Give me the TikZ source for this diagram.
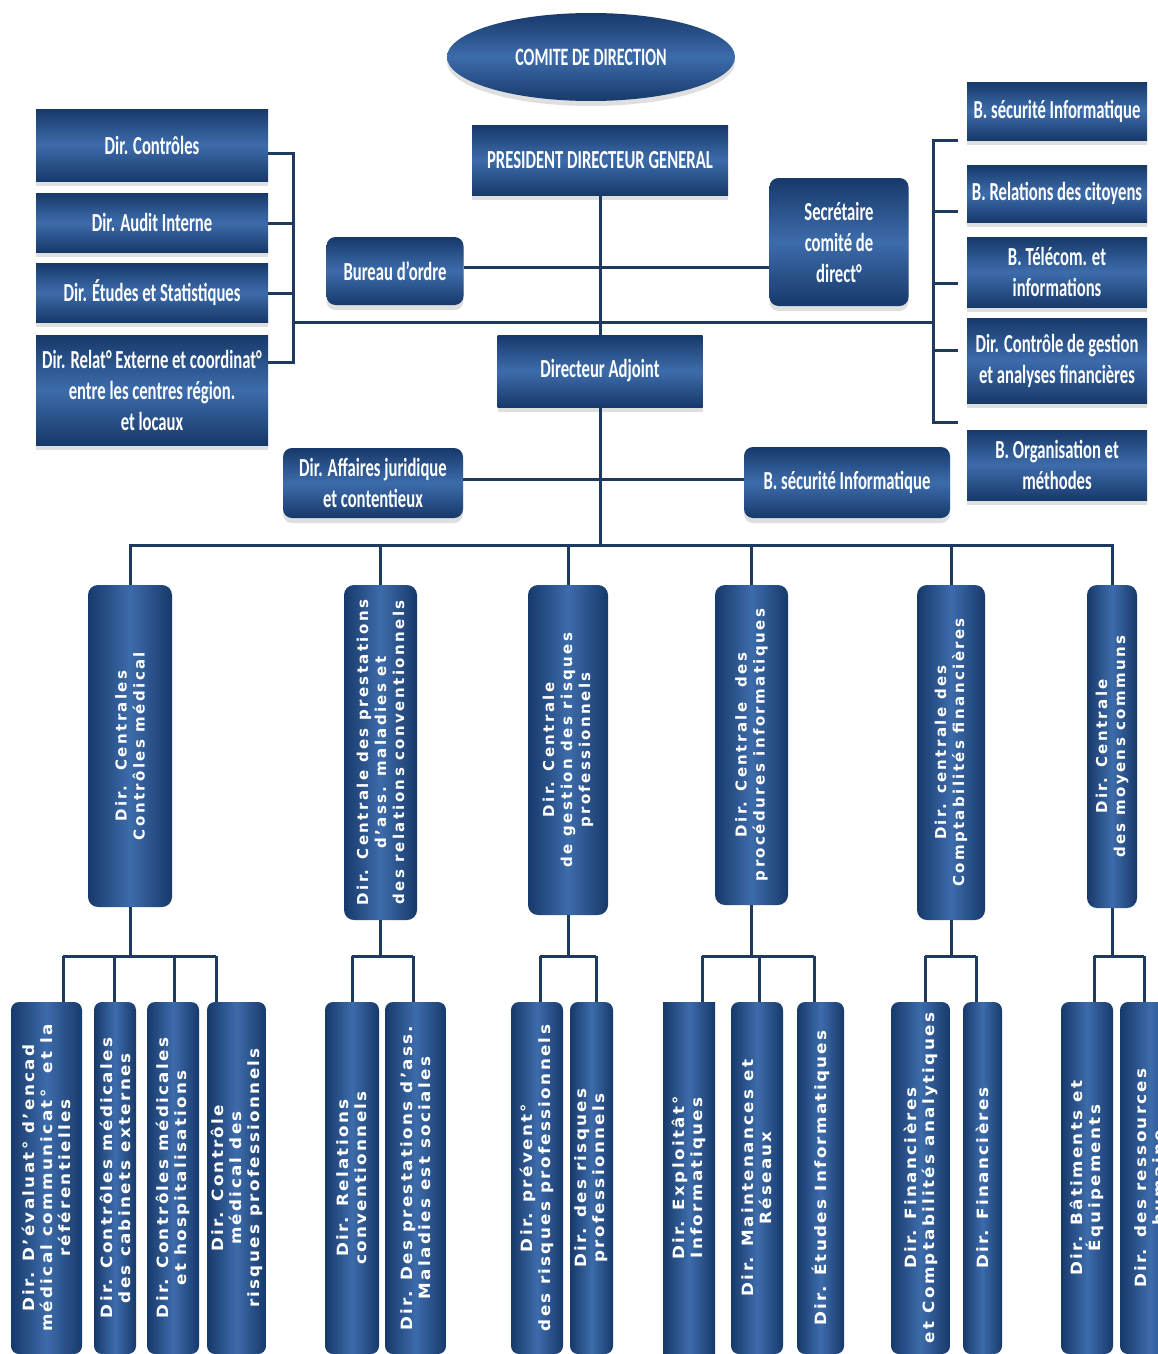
\documentclass[tikz,border=0pt]{standalone}
\usepackage{fontspec}
\usetikzlibrary{shapes.geometric,shadows}
\newfontfamily\topfont[FakeStretch=0.64]{Carlito}
\newfontfamily\vfont[LetterSpace=16]{DejaVu Sans}
\newfontfamily\lowfont[LetterSpace=15,FakeStretch=1.08]{DejaVu Sans}
\definecolor{navyL}{HTML}{3D6CAB}
\definecolor{navyD}{HTML}{17396A}
\definecolor{lineC}{HTML}{1E3A5F}
\begin{document}
\begin{tikzpicture}[x=1pt,y=-1pt,
  topbox/.style={draw=none, top color=navyD, bottom color=navyD, middle color=navyL,
    text=white, align=center, inner sep=1pt,
    font=\topfont\bfseries\fontsize{26}{31}\selectfont,
    drop shadow={opacity=0.25, shadow xshift=0pt, shadow yshift=-5pt}},
  roundbox/.style={topbox, rounded corners=9pt},
  vbox/.style={draw=none, left color=navyD, right color=navyD, middle color=navyL,
    text=white, align=center, inner sep=1pt, rotate=90, rounded corners=10pt,
    font=\vfont\bfseries\fontsize{15}{18}\selectfont},
  lowbox/.style={vbox, rounded corners=8pt, minimum width=352pt,
    font=\lowfont\bfseries\fontsize{15.5}{18}\selectfont},
  wire/.style={draw=lineC, line width=3pt}]
\path[use as bounding box] (0,0) rectangle (1158,1354);
\fill[white] (0,0) rectangle (1158,1354);
\clip (0,0) rectangle (1158,1354);

% ---------- top section ----------
\node[ellipse, topbox, minimum width=288pt, minimum height=88pt,
  font=\topfont\bfseries\fontsize{25}{28}\selectfont] (comite) at (591,57) {COMITE DE DIRECTION};
\node[topbox, minimum width=256pt, minimum height=70pt] (pdg) at (600,160) {PRESIDENT DIRECTEUR GENERAL};
\node[topbox, minimum width=232pt, minimum height=72pt] (dctrl) at (152,145) {Dir. Contrôles};
\node[topbox, minimum width=232pt, minimum height=59pt] (daudit) at (152,222.5) {Dir. Audit Interne};
\node[topbox, minimum width=232pt, minimum height=59pt] (detud) at (152,292.5) {Dir. Études et Statistiques};
\node[topbox, minimum width=232pt, minimum height=110pt] (drelat) at (152,390) {Dir. Relat° Externe et coordinat°\\entre les centres région.\\et locaux};
\node[roundbox, minimum width=137pt, minimum height=68pt] (bureau) at (395,271) {Bureau d’ordre};
\node[roundbox, minimum width=139pt, minimum height=128pt] (secr) at (839,242) {Secrétaire\\comité de\\direct°};
\node[topbox, minimum width=205pt, minimum height=72pt] (adj) at (600,371) {Directeur Adjoint};
\node[roundbox, minimum width=180pt, minimum height=70pt] (affj) at (373,483) {Dir. Affaires juridique\\et contentieux};
\node[roundbox, minimum width=206pt, minimum height=71pt] (bsec2) at (847,482.5) {B. sécurité Informatique};
\node[topbox, minimum width=180pt, minimum height=58pt] (r1) at (1057,111) {B. sécurité Informatique};
\node[topbox, minimum width=180pt, minimum height=57pt] (r2) at (1057,193.5) {B. Relations des citoyens};
\node[topbox, minimum width=180pt, minimum height=70pt] (r3) at (1057,272) {B. Télécom. et\\informations};
\node[topbox, minimum width=180pt, minimum height=85pt] (r4) at (1057,360.5) {Dir. Contrôle de gestion\\et analyses financières};
\node[topbox, minimum width=180pt, minimum height=70pt] (r5) at (1057,465) {B. Organisation et\\méthodes};

% ---------- middle tier ----------
\node[vbox, minimum width=322pt, minimum height=84pt] (m1) at (130,746) {Dir.\ \ Centrales\\Contrôles médical};
\node[vbox, minimum width=335pt, minimum height=73pt] (m2) at (380.5,752.5) {Dir. Centrale des prestations\\d’ass. maladies et\\des relations conventionnels};
\node[vbox, minimum width=330pt, minimum height=80pt] (m3) at (568,750) {Dir. Centrale\\de gestion des risques\\professionnels};
\node[vbox, minimum width=320pt, minimum height=73pt] (m4) at (751.5,745) {Dir. Centrale\ \ des\\procédures informatiques};
\node[vbox, minimum width=335pt, minimum height=68pt] (m5) at (951,752.5) {Dir. centrale des\\Comptabilités financières};
\node[vbox, minimum width=323pt, minimum height=50pt] (m6) at (1112,746.5) {Dir. Centrale\\des moyens communs};

% ---------- bottom tier ----------
\node[lowbox, minimum height=71pt] (b1a) at (46.5,1178) {Dir. D’évaluat° d’encad\\médical communicat°\ \ et la\\référentielles};
\node[lowbox, minimum height=42pt] (b1b) at (115,1178) {Dir. Contrôles médicales\\des cabinets externes};
\node[lowbox, minimum height=52pt] (b1c) at (173,1178) {Dir. Contrôles médicales\\et hospitalisations};
\node[lowbox, minimum height=59pt] (b1d) at (236.5,1178) {Dir. Contrôle\\médical des\\risques professionnels};
\node[lowbox, minimum height=54pt] (b2a) at (352,1178) {Dir. Relations\\conventionnels};
\node[lowbox, minimum height=61pt] (b2b) at (415.5,1178) {Dir. Des prestations d’ass.\\Maladies est sociales};
\node[lowbox, minimum height=52pt] (b3a) at (537,1178) {Dir. prévent°\\des risques professionnels};
\node[lowbox, minimum height=43pt] (b3b) at (591.5,1178) {Dir. des risques\\professionnels};
\node[lowbox, rounded corners=0pt, minimum height=52pt] (b4a) at (689,1178) {Dir. Exploitât°\\Informatiques};
\node[lowbox, minimum height=52pt] (b4b) at (757,1178) {Dir. Maintenances et\\Réseaux};
\node[lowbox, minimum height=47pt] (b4c) at (820.5,1178) {Dir. Études Informatiques};
\node[lowbox, minimum height=59pt] (b5a) at (920.5,1178) {Dir. Financières\\et Comptabilités analytiques};
\node[lowbox, minimum height=39pt] (b5b) at (982.5,1178) {Dir. Financières};
\node[lowbox, minimum height=52pt] (b6a) at (1087,1178) {Dir. Bâtiments et\\Équipements};
\node[lowbox, minimum height=60pt] (b6b) at (1150,1178) {Dir. des ressources\\humaine};

% ---------- connectors, top ----------
\coordinate (bus) at (600,545);
\coordinate (hb) at (0,267);
\coordinate (ha) at (0,479);
\draw[wire] (pdg.south) -- (adj.north);
\draw[wire] (adj.south) -- (bus);
\draw[wire] (bureau.east |- hb) -- (secr.west |- hb);
\draw[wire] (affj.east |- ha) -- (bsec2.west |- ha);
% left bracket
\coordinate (lbt) at (293,153);
\coordinate (lb2) at (293,223);
\coordinate (lb3) at (293,293);
\coordinate (lbb) at (293,362);
\coordinate (lbm) at (293,322);
\draw[wire] (dctrl.east |- lbt) -- (lbt) -- (lbb) -- (drelat.east |- lbb);
\draw[wire] (daudit.east |- lb2) -- (lb2);
\draw[wire] (detud.east |- lb3) -- (lb3);
% right bracket
\coordinate (rbt) at (933,140);
\coordinate (rb2) at (933,211);
\coordinate (rb3) at (933,283);
\coordinate (rb4) at (933,350);
\coordinate (rbb) at (933,422);
\coordinate (rbm) at (933,322);
\draw[wire] (rbt) ++(25,0) -- (rbt) -- (rbb) -- ++(25,0);
\draw[wire] (rb2) -- ++(25,0);
\draw[wire] (rb3) -- ++(25,0);
\draw[wire] (rb4) -- ++(25,0);
\draw[wire] (lbm) -- (rbm);

% ---------- main bus ----------
\draw[wire] (m1.east) -- (m1.east |- bus) -- (m6.east |- bus) -- (m6.east);
\foreach \m in {m2,m3,m4,m5} \draw[wire] (\m.east |- bus) -- (\m.east);

% ---------- sub buses ----------
\coordinate (sb) at (0,956);
\foreach \m in {m1,m2,m3,m4,m5,m6} \draw[wire] (\m.west) -- (\m.west |- sb);
\coordinate (d1a) at (63,956);  \coordinate (d1b) at (114,956);
\coordinate (d1c) at (174,956); \coordinate (d1d) at (216,956);
\coordinate (d2a) at (352,956); \coordinate (d2b) at (413,956);
\coordinate (d3a) at (540,956); \coordinate (d3b) at (596,956);
\coordinate (d4a) at (702,956); \coordinate (d4b) at (759,956); \coordinate (d4c) at (814,956);
\coordinate (d5a) at (925,956); \coordinate (d5b) at (976,956);
\coordinate (d6a) at (1094,956); \coordinate (d6b) at (1144,956);
\draw[wire] (d1a) -- (d1d);
\draw[wire] (d2a) -- (d2b);
\draw[wire] (d3a) -- (d3b);
\draw[wire] (d4a) -- (d4c);
\draw[wire] (d5a) -- (d5b);
\draw[wire] (d6a) -- (d6b);
\foreach \d/\b in {d1a/b1a,d1b/b1b,d1c/b1c,d1d/b1d,d2a/b2a,d2b/b2b,d3a/b3a,d3b/b3b,d4a/b4a,d4b/b4b,d4c/b4c,d5a/b5a,d5b/b5b,d6a/b6a,d6b/b6b}
  \draw[wire] (\d) -- (\d |- \b.east);
\end{tikzpicture}
\end{document}
